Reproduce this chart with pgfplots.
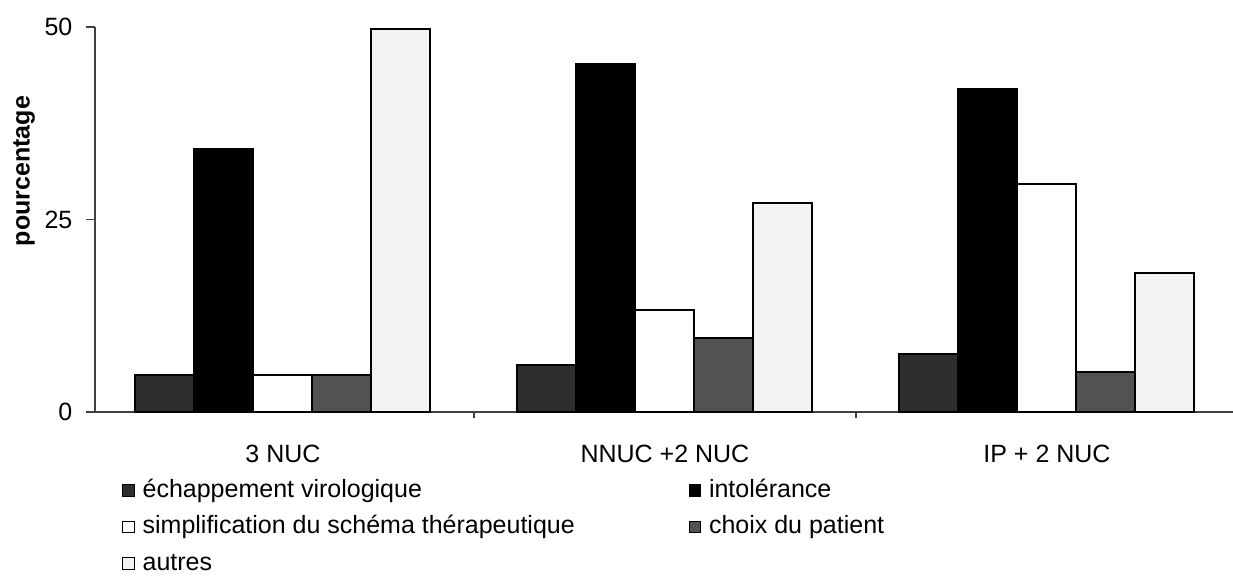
\documentclass[border=0pt]{standalone}
\usepackage{fontspec}
\setmainfont{Liberation Sans}
\usepackage{pgfplots}
\pgfplotsset{compat=1.18}
\begin{document}
\begin{tikzpicture}
\begin{axis}[
  scale only axis,
  width=569pt, height=192.5pt,
  font=\fontsize{12.5pt}{15pt}\selectfont,
  /pgf/number format/assume math mode=true,
  ybar=0pt, bar width=29.5pt,
  xmin=-0.492, xmax=2.487,
  ymin=0, ymax=50,
  ytick={0,25,50},
  xtick={0,1,2},
  xticklabels={3 NUC, NNUC +2 NUC, IP + 2 NUC},
  minor xtick={0.5,1.5},
  major x tick style={draw=none},
  tick align=outside,
  major tick length=4.5pt, minor tick length=3pt,
  axis x line*=bottom, axis y line*=left,
  axis line style={-, black!75, line width=0.6pt},
  tick style={black!75, line width=0.6pt},
  y tick label style={xshift=-3.3pt},
  x tick label style={yshift=-8.5pt},
  ylabel={\textbf{pourcentage}},
  ylabel style={at={(axis description cs:-0.0624,0.626)}, anchor=center},
  legend columns=2,
  legend cell align=left,
  legend style={draw=none, fill=none, at={(axis description cs:0.0185,-0.15)}, anchor=north west,
    row sep=2pt,
    nodes={inner sep=2pt, text height=9.5pt, text depth=2.75pt},
    /tikz/every odd column/.append style={column sep=2pt},
    /tikz/every even column/.append style={column sep=55pt}},
  legend image code/.code={\draw[#1, draw=black, line width=0.5pt] (0pt,-2.8pt) rectangle (5.6pt,2.8pt);},
  every axis plot/.append style={draw=black, line width=1pt},
]
\addplot[fill=black!82] coordinates {(0,4.8) (1,6.1) (2,7.5)};
\addplot[fill=black] coordinates {(0,34.2) (1,45.2) (2,41.9)};
\addplot[fill=white] coordinates {(0,4.8) (1,13.2) (2,29.6)};
\addplot[fill=black!68] coordinates {(0,4.8) (1,9.6) (2,5.2)};
\addplot[fill=black!5] coordinates {(0,49.7) (1,27.1) (2,18.0)};
\legend{échappement virologique, intolérance, simplification du schéma thérapeutique, choix du patient, autres}
\end{axis}
\pgfresetboundingbox
\useasboundingbox (-47.5pt,-86pt) rectangle (569pt,206pt);
\end{tikzpicture}
\end{document}
